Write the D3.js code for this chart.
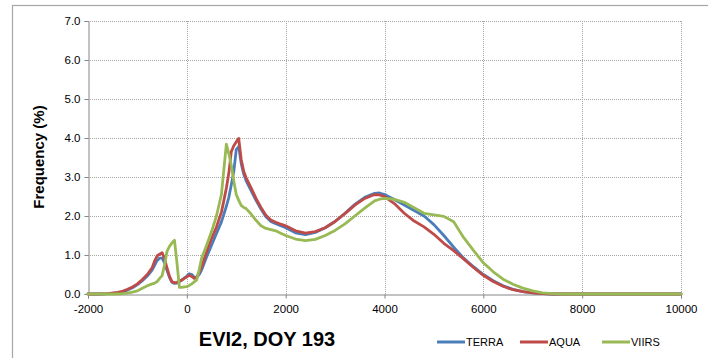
<!DOCTYPE html>
<html>
<head>
<meta charset="utf-8">
<script src="https://cdn.jsdelivr.net/npm/d3@7"></script>
<style>
  html, body { margin: 0; padding: 0; background: #ffffff; }
  svg { display: block; font-family: "Liberation Sans", Arial, sans-serif; }
</style>
</head>
<body>
<svg id="chart" width="708" height="358"></svg>
<script>
// EVI2 value (x 10000) at each sample
const evi2 = [-2000, -1800, -1600, -1400, -1300, -1200, -1100, -1000, -900, -800,
  -700, -650, -600, -550, -500, -450, -400, -350, -300, -250,
  -200, -150, -100, -50, 0, 50, 100, 150, 200, 250,
  300, 400, 500, 600, 700, 750, 800, 850, 900, 950,
  1000, 1050, 1100, 1150, 1200, 1300, 1400, 1500, 1600, 1700,
  1800, 1900, 2000, 2200, 2400, 2600, 2800, 3000, 3200, 3400,
  3600, 3800, 3900, 4000, 4200, 4400, 4600, 4800, 5000, 5200,
  5400, 5600, 5800, 6000, 6200, 6400, 6600, 6800, 7000, 7200,
  7400, 7600, 8000, 9000, 10000];

// Frequency (%) per sensor
const terra = [0, 0, 0.01, 0.03, 0.06, 0.10, 0.16, 0.24, 0.34, 0.46,
  0.62, 0.74, 0.86, 0.92, 0.92, 0.80, 0.60, 0.42, 0.30, 0.27,
  0.28, 0.32, 0.36, 0.41, 0.46, 0.52, 0.50, 0.43, 0.42, 0.50,
  0.62, 0.95, 1.25, 1.55, 1.85, 2.05, 2.25, 2.48, 2.80, 3.14,
  3.70, 3.78, 3.35, 3.08, 2.90, 2.65, 2.40, 2.18, 1.98, 1.86,
  1.80, 1.75, 1.70, 1.57, 1.52, 1.58, 1.70, 1.86, 2.07, 2.30,
  2.48, 2.58, 2.59, 2.55, 2.42, 2.28, 2.14, 2.00, 1.78, 1.50,
  1.20, 0.92, 0.70, 0.50, 0.34, 0.21, 0.12, 0.06, 0.03, 0.01,
  0, 0, 0, 0, 0];

const aqua = [0, 0, 0.01, 0.04, 0.07, 0.12, 0.18, 0.26, 0.37, 0.50,
  0.68, 0.85, 0.98, 1.02, 1.06, 0.90, 0.66, 0.45, 0.31, 0.29,
  0.30, 0.33, 0.36, 0.40, 0.44, 0.48, 0.45, 0.40, 0.43, 0.56,
  0.70, 1.08, 1.42, 1.72, 2.10, 2.40, 2.72, 3.10, 3.65, 3.80,
  3.90, 3.99, 3.45, 3.15, 2.98, 2.72, 2.45, 2.22, 2.02, 1.90,
  1.84, 1.79, 1.75, 1.62, 1.56, 1.60, 1.70, 1.86, 2.06, 2.28,
  2.45, 2.55, 2.54, 2.50, 2.32, 2.07, 1.87, 1.72, 1.53, 1.30,
  1.11, 0.90, 0.68, 0.48, 0.32, 0.20, 0.11, 0.06, 0.03, 0.01,
  0, 0, 0, 0, 0];

const viirs = [0, 0, 0, 0, 0.01, 0.02, 0.05, 0.08, 0.15, 0.21,
  0.26, 0.28, 0.32, 0.40, 0.47, 0.75, 1.10, 1.22, 1.31, 1.38,
  0.80, 0.17, 0.17, 0.18, 0.19, 0.22, 0.26, 0.31, 0.36, 0.62,
  0.92, 1.25, 1.60, 2.00, 2.55, 3.20, 3.84, 3.60, 3.30, 2.90,
  2.55, 2.40, 2.27, 2.22, 2.19, 2.05, 1.89, 1.75, 1.68, 1.65,
  1.62, 1.56, 1.50, 1.41, 1.37, 1.40, 1.50, 1.63, 1.80, 2.00,
  2.20, 2.39, 2.43, 2.45, 2.43, 2.35, 2.21, 2.07, 2.03, 1.99,
  1.85, 1.45, 1.12, 0.80, 0.57, 0.38, 0.25, 0.15, 0.08, 0.03,
  0.01, 0, 0, 0, 0];

const seriesNames = ["TERRA", "AQUA", "VIIRS"];
const seriesColors = ["#4a7ebb", "#be4b48", "#98b954"];
const seriesValues = [terra, aqua, viirs];

const xTicks = [-2000, 0, 2000, 4000, 6000, 8000, 10000];
const yTicks = [0, 1, 2, 3, 4, 5, 6, 7];

const xTitle = "EVI2, DOY 193";
const yTitle = "Frequency (%)";

const svg = d3.select("#chart");

// chart frame
svg.append("rect")
  .attr("x", 12.5).attr("y", 5.5)
  .attr("width", 740).attr("height", 400)
  .attr("fill", "none")
  .attr("stroke", "#a6a6a6")
  .attr("stroke-width", 1.2);

const x = d3.scaleLinear().domain([-2000, 10000]).range([88, 681]);
const y = d3.scaleLinear().domain([0, 7]).range([294, 21]);

// dotted gridlines
const grid = svg.append("g");
grid.selectAll("line.h").data(yTicks.filter(d => d > 0)).join("line")
  .attr("x1", x(-2000)).attr("x2", x(10000))
  .attr("y1", d => Math.round(y(d)) + 0.5).attr("y2", d => Math.round(y(d)) + 0.5)
  .attr("stroke", "#a6a6a6").attr("stroke-width", 1)
  .attr("stroke-dasharray", "1,1");
grid.selectAll("line.v").data(xTicks.filter(d => d > -2000)).join("line")
  .attr("x1", d => Math.round(x(d)) + 0.5).attr("x2", d => Math.round(x(d)) + 0.5)
  .attr("y1", y(7)).attr("y2", y(0))
  .attr("stroke", "#a6a6a6").attr("stroke-width", 1)
  .attr("stroke-dasharray", "1,1");

// axes (plain hyphen for negative labels)
const xAxis = d3.axisBottom(x).tickValues(xTicks).tickSize(4).tickPadding(6)
  .tickFormat(d => String(d));
const yAxis = d3.axisLeft(y).tickValues(yTicks).tickSize(4).tickPadding(4)
  .tickFormat(d => d.toFixed(1));

const gx = svg.append("g").attr("transform", `translate(0,${Math.round(y(0)) + 0.5})`).call(xAxis);
const gy = svg.append("g").attr("transform", `translate(${Math.round(x(-2000)) + 0.5},0)`).call(yAxis);
[gx, gy].forEach(g => {
  g.select(".domain").attr("stroke", "#868686").attr("stroke-width", 1);
  g.selectAll(".tick line").attr("stroke", "#868686");
  g.selectAll(".tick text").attr("fill", "#000").attr("font-size", 11.5)
    .attr("font-family", "'Liberation Sans', Arial, sans-serif");
});

// series lines
const line = d3.line()
  .x((d, i) => x(evi2[i]))
  .y(d => y(d));

seriesValues.forEach((vals, k) => {
  svg.append("path")
    .datum(vals)
    .attr("d", line)
    .attr("fill", "none")
    .attr("stroke", seriesColors[k])
    .attr("stroke-width", 2.8)
    .attr("stroke-linejoin", "round")
    .attr("stroke-linecap", "round");
});

// axis titles
svg.append("text")
  .attr("x", 267).attr("y", 346)
  .attr("text-anchor", "middle")
  .attr("font-size", 20).attr("font-weight", "bold")
  .text(xTitle);

svg.append("text")
  .attr("transform", "translate(44,157) rotate(-90)")
  .attr("text-anchor", "middle")
  .attr("font-size", 15).attr("font-weight", "bold")
  .text(yTitle);

// legend
const legendX = [437, 520, 602];
const legend = svg.append("g");
seriesNames.forEach((name, k) => {
  legend.append("line")
    .attr("x1", legendX[k]).attr("x2", legendX[k] + 28)
    .attr("y1", 342).attr("y2", 342)
    .attr("stroke", seriesColors[k]).attr("stroke-width", 3);
  legend.append("text")
    .attr("x", legendX[k] + 29).attr("y", 346)
    .attr("font-size", 11)
    .text(name);
});
</script>
</body>
</html>
